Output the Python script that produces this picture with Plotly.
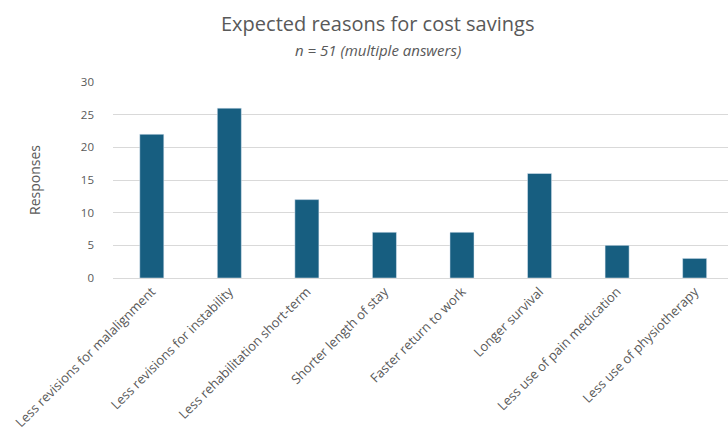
import plotly.graph_objects as go

categories = [
    "Less revisions for malalignment",
    "Less revisions for instability",
    "Less rehabilitation short-term",
    "Shorter length of stay",
    "Faster return to work",
    "Longer survival",
    "Less use of pain medication",
    "Less use of physiotherapy",
]
values = [22, 26, 12, 7, 7, 16, 5, 3]
y_ticks = [0, 5, 10, 15, 20, 25, 30]

L, R, T, B = 113, 0, 82, 159
W, H = 728, 437
plot_w = W - L - R
plot_h = H - T - B

fig = go.Figure(go.Bar(
    x=categories, y=values, marker_color="#175e80", width=0.31,
))

fig.update_layout(
    width=W, height=H,
    margin=dict(l=L, r=R, t=T, b=B),
    paper_bgcolor="white", plot_bgcolor="white",
    font=dict(family="Open Sans, Calibri, Arial", color="#595959"),
    showlegend=False,
    xaxis=dict(tickangle=-45, tickfont=dict(size=13, color="#595959"),
               range=[-0.5, 7.43],
               showgrid=False, showline=True, linecolor="#d9d9d9", ticks=""),
    yaxis=dict(range=[0, 30], tickvals=y_ticks, tickfont=dict(size=11.5, color="#595959"),
               showgrid=True, gridcolor="#d9d9d9", zeroline=False, ticks="",
               ticklabelstandoff=18,
               title=dict(text="Responses", font=dict(size=14, color="#595959"), standoff=36)),
)

def px_x(p):
    return (p - L) / plot_w

def px_y(p):
    return 1 + (T - p) / plot_h

fig.add_annotation(text="Expected reasons for cost savings", x=px_x(377), xref="paper",
                   xanchor="center", y=px_y(23), yref="paper", yanchor="middle",
                   showarrow=False, font=dict(size=20, color="#595959"))
fig.add_annotation(text="<i>n = 51 (multiple answers)</i>", x=px_x(378), xref="paper",
                   xanchor="center", y=px_y(50), yref="paper", yanchor="middle",
                   showarrow=False, font=dict(size=15, color="#595959"))

fig.write_html("out.html")
